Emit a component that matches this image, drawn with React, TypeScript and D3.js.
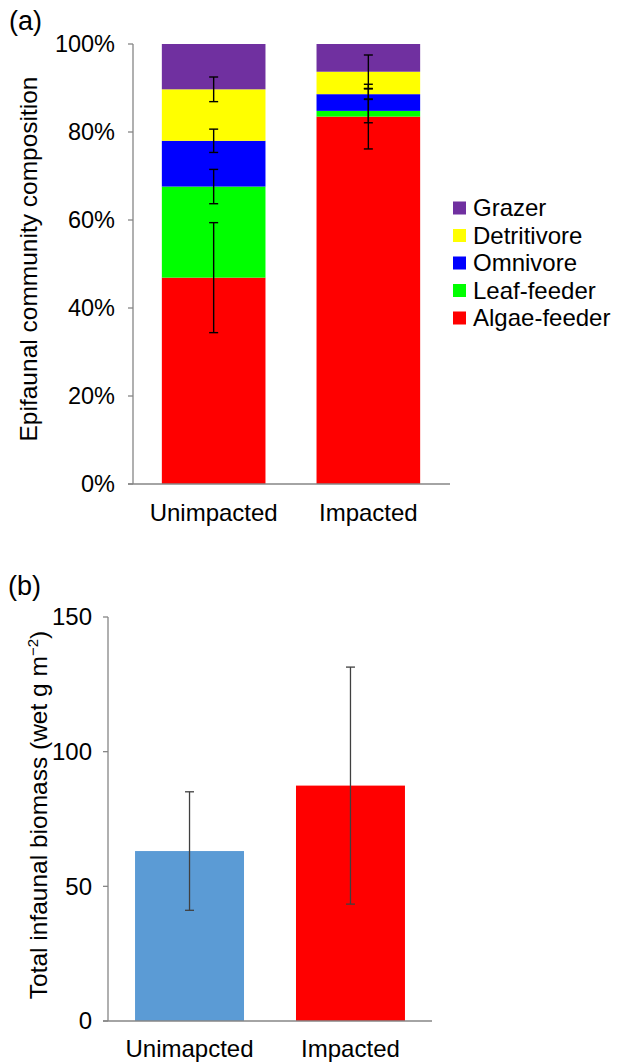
import React from 'react'
import * as d3 from 'd3'

// panel (a): epifaunal composition (%), stacked bottom -> top
const sites = ['Unimpacted', 'Impacted']
const groups = ['Algae-feeder', 'Leaf-feeder', 'Omnivore', 'Detritivore', 'Grazer']
const groupColors = ['#ff0000', '#00ff00', '#0000ff', '#ffff00', '#7030a0']
const unimpactedShare = [46.9, 20.7, 10.4, 11.7, 10.3]
const impactedShare = [83.5, 1.3, 3.8, 5.1, 6.3]
// error on the top edge of each segment (grazer has none)
const unimpactedErr = [12.5, 3.9, 2.65, 2.8, 0]
const impactedErr = [7.35, 2.7, 1.2, 3.8, 0]
const percentTicks = [0, 20, 40, 60, 80, 100]

// panel (b): total infaunal biomass
const biomassSites = ['Unimapcted', 'Impacted']
const biomassMean = [63.1, 87.4]
const biomassErr = [22, 44]
const biomassColors = ['#5b9bd5', '#ff0000']
const biomassTicks = [0, 50, 100, 150]

const FONT = "'Liberation Sans', Arial, Helvetica, sans-serif"
const AXIS = '#868686'

export default function App() {
  // ---- panel a
  const xA = d3.scaleBand<string>().domain(sites).range([134, 448]).paddingInner(0.33).paddingOuter(0.18)
  const yA = d3.scaleLinear().domain([0, 100]).range([484, 44])

  const rows = sites.map((s, i) => {
    const vals = i === 0 ? unimpactedShare : impactedShare
    const o: any = { site: s }
    groups.forEach((g, j) => (o[g] = vals[j]))
    return o
  })
  const series = d3.stack<any>().keys(groups)(rows)
  const errs = [unimpactedErr, impactedErr]

  // ---- panel b
  const xB = d3.scaleBand<string>().domain(biomassSites).range([108, 432]).paddingInner(0.323).paddingOuter(0.168)
  const yB = d3.scaleLinear().domain([0, 150]).range([1021, 617])

  const cap = 4.5

  return (
    <div style={{ position: 'absolute', left: 0, top: 0 }}>
      <svg width={621} height={1063} style={{ display: 'block', fontFamily: FONT }}>
        <rect width={621} height={1063} fill="#fff" />

        {/* ===== (a) ===== */}
        <text x={9} y={30} fontSize={27}>(a)</text>

        {series.map((s, j) => (
          <g key={s.key} fill={groupColors[j]}>
            {s.map((d, i) => (
              <rect
                key={i}
                x={xA(sites[i])}
                width={xA.bandwidth()}
                y={yA(d[1])}
                height={yA(d[0]) - yA(d[1])}
              />
            ))}
          </g>
        ))}

        {series.map((s, j) =>
          s.map((d, i) => {
            const e = errs[i][j]
            if (!e) return null
            const cx = (xA(sites[i]) as number) + xA.bandwidth() / 2
            const y1 = yA(d[1] + e)
            const y0 = yA(d[1] - e)
            return (
              <g key={`${j}-${i}`} stroke="#000" strokeWidth={1.4}>
                <line x1={cx} x2={cx} y1={y1} y2={y0} />
                <line x1={cx - cap} x2={cx + cap} y1={y1} y2={y1} />
                <line x1={cx - cap} x2={cx + cap} y1={y0} y2={y0} />
              </g>
            )
          })
        )}

        <g stroke={AXIS} strokeWidth={1.3}>
          <line x1={133} x2={133} y1={yA(100)} y2={yA(0)} />
          <line x1={128} x2={450} y1={yA(0)} y2={yA(0)} />
          {percentTicks.map((t) => (
            <line key={t} x1={128} x2={133} y1={yA(t)} y2={yA(t)} />
          ))}
        </g>
        {percentTicks.map((t) => (
          <text key={t} x={115} y={yA(t)} dy="0.35em" fontSize={23.5} textAnchor="end">
            {t}%
          </text>
        ))}
        {sites.map((s) => (
          <text key={s} x={(xA(s) as number) + xA.bandwidth() / 2} y={521} fontSize={24} textAnchor="middle">
            {s}
          </text>
        ))}
        <text
          transform={`translate(37,${(yA(0) + yA(100)) / 2 - 5}) rotate(-90)`}
          fontSize={24.5}
          textAnchor="middle"
        >
          Epifaunal community composition
        </text>

        {/* legend, top -> bottom is reversed stack order */}
        {groups
          .map((g, j) => ({ g, c: groupColors[j] }))
          .reverse()
          .map((d, k) => (
            <g key={d.g} transform={`translate(453,${208 + k * 27.5})`}>
              <rect x={0} y={-6.5} width={13} height={13} fill={d.c} />
              <text x={20} y={0} dy="0.35em" fontSize={24}>
                {d.g}
              </text>
            </g>
          ))}

        {/* ===== (b) ===== */}
        <text x={8} y={595} fontSize={27}>(b)</text>

        {biomassSites.map((s, i) => (
          <rect
            key={s}
            x={xB(s)}
            width={xB.bandwidth()}
            y={yB(biomassMean[i])}
            height={yB(0) - yB(biomassMean[i])}
            fill={biomassColors[i]}
          />
        ))}
        {biomassSites.map((s, i) => {
          const cx = (xB(s) as number) + xB.bandwidth() / 2
          const y1 = yB(biomassMean[i] + biomassErr[i])
          const y0 = yB(biomassMean[i] - biomassErr[i])
          return (
            <g key={s} stroke="#404040" strokeWidth={1.3}>
              <line x1={cx} x2={cx} y1={y1} y2={y0} />
              <line x1={cx - cap} x2={cx + cap} y1={y1} y2={y1} />
              <line x1={cx - cap} x2={cx + cap} y1={y0} y2={y0} />
            </g>
          )
        })}

        <g stroke={AXIS} strokeWidth={1.3}>
          <line x1={108} x2={108} y1={yB(150)} y2={yB(0)} />
          <line x1={103} x2={432} y1={yB(0)} y2={yB(0)} />
          {biomassTicks.map((t) => (
            <line key={t} x1={103} x2={108} y1={yB(t)} y2={yB(t)} />
          ))}
        </g>
        {biomassTicks.map((t) => (
          <text key={t} x={92} y={yB(t)} dy="0.35em" fontSize={24} textAnchor="end">
            {t}
          </text>
        ))}
        {biomassSites.map((s) => (
          <text key={s} x={(xB(s) as number) + xB.bandwidth() / 2} y={1057} fontSize={24} textAnchor="middle">
            {s}
          </text>
        ))}
        <text
          transform={`translate(47,${(yB(0) + yB(150)) / 2 - 4}) rotate(-90)`}
          fontSize={24.5}
          textAnchor="middle"
        >
          Total infaunal biomass (wet g m
          <tspan fontSize={15} dy={-9}>−2</tspan>
          <tspan dy={9}>)</tspan>
        </text>
      </svg>
    </div>
  )
}
